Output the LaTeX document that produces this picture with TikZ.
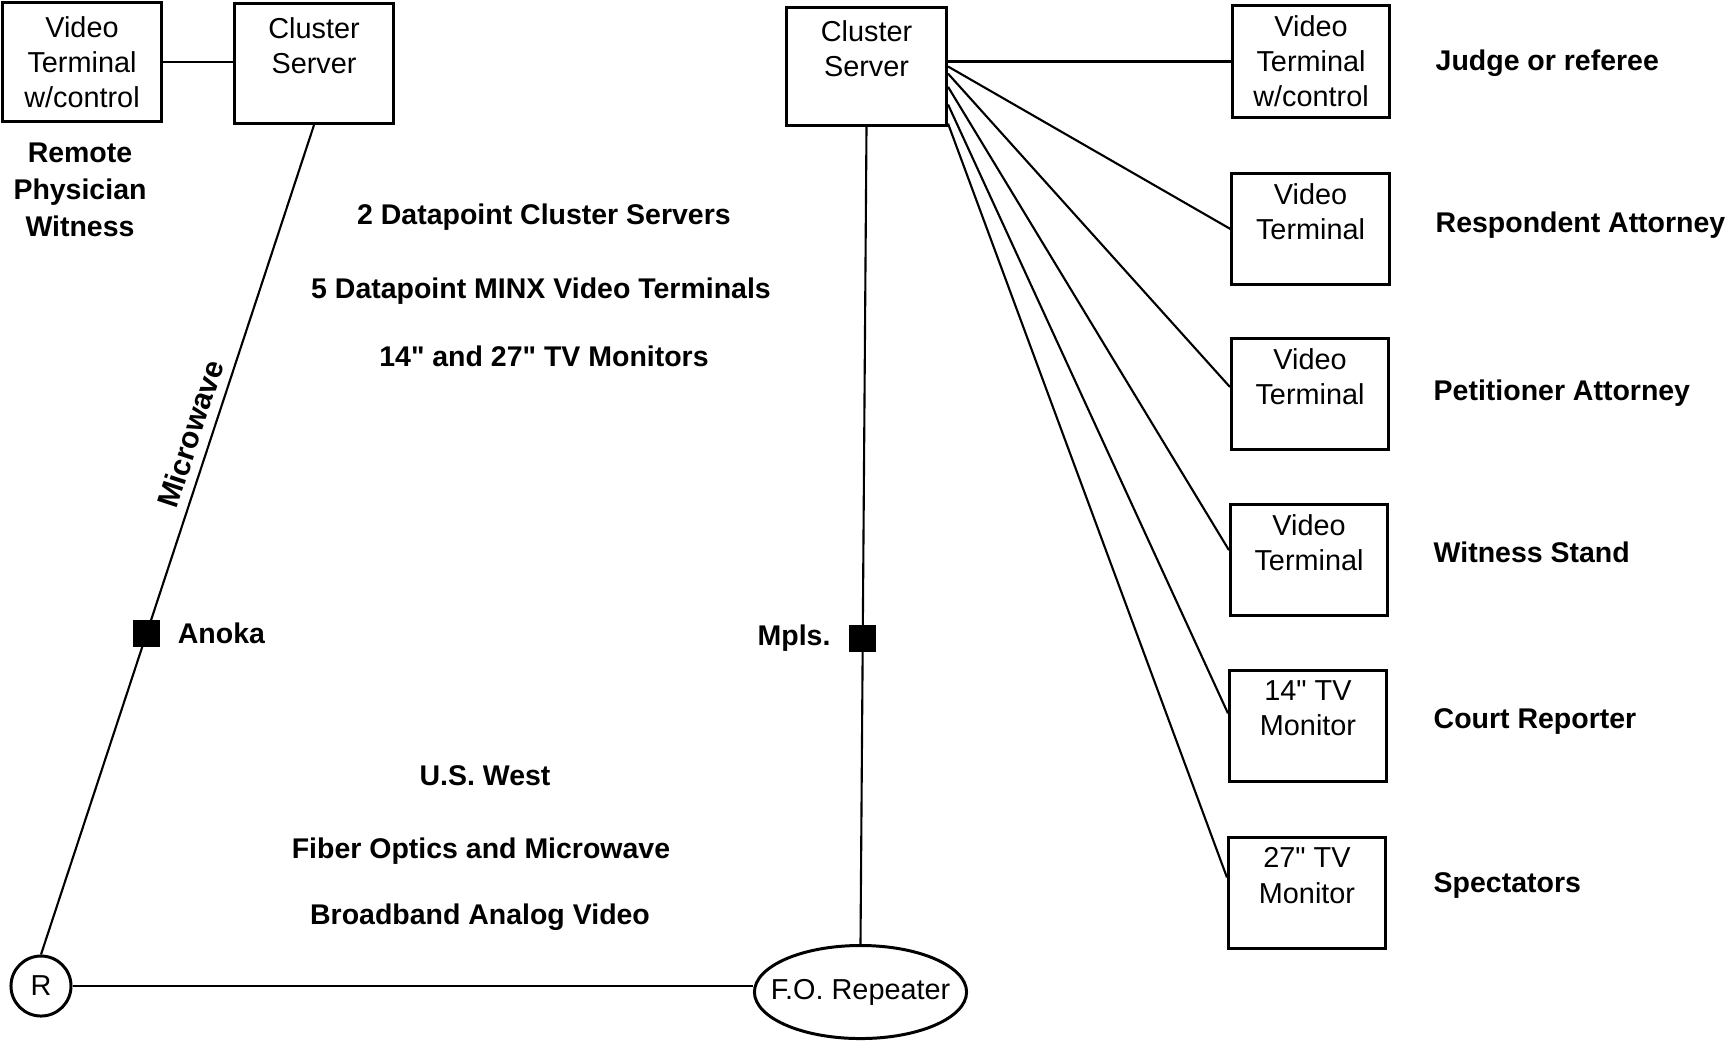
\documentclass[tikz,border=0pt]{standalone}
\usepackage{fontspec}
\setmainfont{Liberation Sans}[Ligatures=TeXOff]
\usepackage{tikz}
\usetikzlibrary{positioning,shapes.geometric}

\begin{document}
\begin{tikzpicture}[
x=0.01cm, y=-0.01cm,
MyBoxes/.style={draw=black,line width=0.85pt,minimum width=1.57cm,minimum height=1.11cm,align=center,inner sep=0pt,font=\fontsize{8.2}{10}\selectfont},
MyLabels/.style={inner sep=0pt,font=\fontsize{8.1}{10.5}\selectfont\bfseries},
MyLines/.style={draw=black,line width=0.6pt},
MyPoints/.style={draw=black,fill=black,minimum size=0.25cm,inner sep=0pt},
MyCircles/.style={draw=black,line width=0.85pt,inner sep=0pt,font=\fontsize{8.2}{10}\selectfont}
]

\useasboundingbox (0,0) rectangle (1733,1041);

% remote site
\node[MyBoxes,minimum width=1.58cm,minimum height=1.19cm] (vt0) at (82,62) {Video\\Terminal\\w/control};
\node[MyBoxes,minimum width=1.59cm,minimum height=1.2cm] (cs1) at (314,63.5) {Cluster\\Server\\\mbox{}};
\node[MyLabels,align=center] (rpw) at (80,190) {Remote\\Physician\\Witness};

\node[MyCircles,circle,minimum size=0.6cm] (r) at (41,986) {R};

% court room
\node[MyBoxes,minimum width=1.6cm,minimum height=1.18cm] (cs2) at (866.5,66.5) {Cluster\\Server\\\mbox{}};
\node[MyCircles,ellipse,minimum width=2.12cm,minimum height=0.93cm] (fo) at (860.5,992) {\makebox[0pt]{F.O. Repeater}};

\node[MyBoxes] (jud)  at (1311,61.5) {Video\\Terminal\\w/control};
\node[MyBoxes] (res)  at (1310.5,229) {Video\\Terminal\\\mbox{}};
\node[MyBoxes] (pet)  at (1310,394) {Video\\Terminal\\\mbox{}};
\node[MyBoxes] (wit)  at (1309,560) {Video\\Terminal\\\mbox{}};
\node[MyBoxes] (tv14) at (1308,726) {14" TV\\Monitor\\\mbox{}};
\node[MyBoxes] (tv27) at (1307,893) {27" TV\\Monitor\\\mbox{}};

\node[MyLabels,anchor=base west] (ljud)  at (1435,70)  {Judge or referee};
\node[MyLabels,anchor=base west] (lres)  at (1435,232) {Respondent Attorney};
\node[MyLabels,anchor=base west] (lpet)  at (1433,400) {Petitioner Attorney};
\node[MyLabels,anchor=base west] (lwit)  at (1433,562) {Witness Stand};
\node[MyLabels,anchor=base west] (ltv14) at (1433,728) {Court Reporter};
\node[MyLabels,anchor=base west] (ltv27) at (1433,892) {Spectators};

% notes in the middle
\node[MyLabels,anchor=base] (n1) at (544,224) {2 Datapoint Cluster Servers};
\node[MyLabels,anchor=base] (n2) at (541,298) {5 Datapoint MINX Video Terminals};
\node[MyLabels,anchor=base] (n3) at (544,366) {14" and 27" TV Monitors};
\node[MyLabels,anchor=base] (n4) at (485,785) {U.S. West};
\node[MyLabels,anchor=base] (n5) at (481,858) {Fiber Optics and Microwave};
\node[MyLabels,anchor=base] (n6) at (480,924) {Broadband Analog Video};

% links
\draw[MyLines] (vt0.east) -- (vt0.east -| cs1.west);

\draw[MyLines] (cs1.south) -- (r.north)
  node[MyLabels,pos=0.38,sloped,above,inner ysep=2.5pt,font=\fontsize{8.5}{10}\selectfont\bfseries] {Microwave}
  node[MyPoints,pos=0.613] (sqA) {};
\node[MyLabels,right=0.17cm of sqA] (anoka) {Anoka};

\draw[MyLines] (cs2.south) -- (fo.north)
  node[MyPoints,pos=0.626] (sqB) {};
\node[MyLabels,left=0.18cm of sqB] (mpls) {Mpls.};

\draw[MyLines] (r.east) -- (r.east -| fo.west);

\draw[MyLines] (jud.west -| cs2.east) -- (jud.west);
\foreach \a/\b/\t in {0/180/res,-5/175/pet,-14/173/wit,-25/171/tv14,-35/169/tv27}
  \draw[MyLines] (cs2.\a) -- (\t.\b);

\end{tikzpicture}
\end{document}
